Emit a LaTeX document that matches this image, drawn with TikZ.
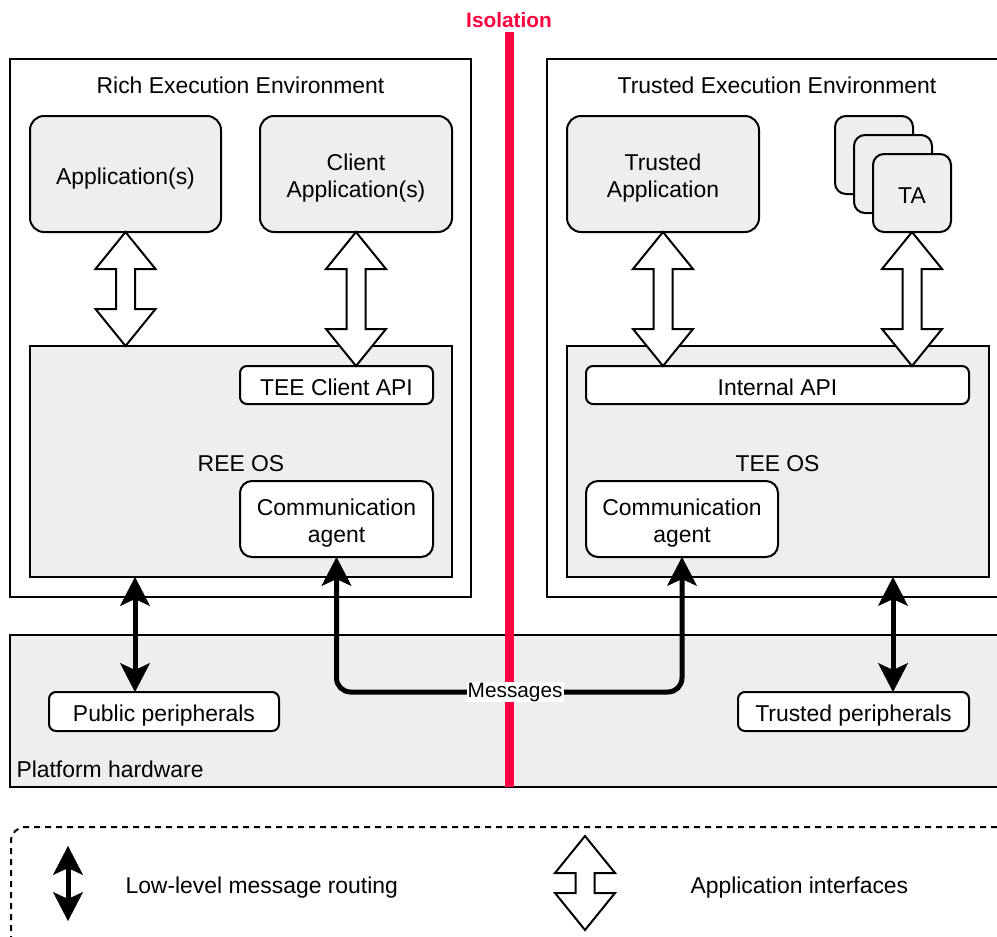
\documentclass[tikz,border=0pt]{standalone}
\usepackage{fontspec}
\setmainfont{Liberation Sans}
\usetikzlibrary{arrows.meta,calc}
\definecolor{boxgray}{HTML}{EEEEEE}
\definecolor{isored}{HTML}{FF0040}
\newcommand\mainfs{\fontsize{22.9}{27}\selectfont}
\newcommand\smallfs{\fontsize{20.8}{24}\selectfont}
\newcommand\dstrut{\rule[-5pt]{0pt}{30pt}}
\newcommand\tstrut{\rule{0pt}{25pt}}
\newcommand\bstrut{\rule[-5pt]{0pt}{5pt}}
\newcommand\appiface[2]{%
  \draw[ifc] let \p1=(#1), \p2=(#2) in
   (\x1,\y1) -- (\x1+30pt,\y1-37pt) -- (\x1+9.5pt,\y1-37pt) -- (\x1+9.5pt,\y2+37pt)
   -- (\x1+30pt,\y2+37pt) -- (\x1,\y2) -- (\x1-30pt,\y2+37pt) -- (\x1-9.5pt,\y2+37pt)
   -- (\x1-9.5pt,\y1-37pt) -- (\x1-30pt,\y1-37pt) -- cycle;}
\begin{document}
\begin{tikzpicture}[x=1pt,y=-1pt,
  every node/.style={font=\mainfs},
  wh/.style 2 args={minimum width=#1, minimum height=#2},
  region/.style={draw, line width=2pt, inner sep=0pt, outer sep=0pt, anchor=north west, align=center},
  gbox/.style={region, fill=boxgray},
  wbox/.style={region, fill=white},
  ifc/.style={draw=black, fill=white, line width=2pt, line join=miter},
  msg/.style={line width=5pt, line join=round,
     {Stealth[length=29pt,width=30pt,inset=7pt,line width=0.5pt]}-{Stealth[length=29pt,width=30pt,inset=7pt,line width=0.5pt]}},
  msglab/.style={fill=white, sharp corners, inner sep=1pt, font=\smallfs},
  ttl/.style={anchor=base}
]
\useasboundingbox (0,0) rectangle (997,937);
\clip (0,0) rectangle (997,937);

% environments
\node[wbox, wh={461pt}{538pt}] (ree) at (10,59) {};
\node[wbox, wh={460pt}{538pt}] (tee) at (547,59) {};
\node[ttl] (reettl) at (240.5,93) {Rich Execution Environment};
\node[ttl] (teettl) at (777,93) {Trusted Execution Environment};

% applications
\node[gbox, rounded corners=14pt, wh={191pt}{116pt}] (app) at (30,116) {\dstrut Application(s)};
\node[gbox, rounded corners=14pt, wh={192pt}{116pt}] (capp) at (260,116) {\tstrut Client\\Application(s)\bstrut};
\node[gbox, rounded corners=14pt, wh={192pt}{116pt}] (tapp) at (567,116) {\tstrut Trusted\\Application\bstrut};
\node[gbox, rounded corners=11pt, wh={78pt}{78pt}] (ta1) at (835,116) {};
\node[gbox, rounded corners=11pt, wh={78pt}{78pt}] (ta2) at (854,135) {};
\node[gbox, rounded corners=11pt, wh={78pt}{78pt}] (ta3) at (873,154) {\dstrut TA};

% OS boxes
\node[gbox, wh={422pt}{231pt}] (reeos) at (30,346) {};
\node[gbox, wh={422pt}{231pt}] (teeos) at (567,346) {};
\node[ttl] (reeoslbl) at (241,471) {REE OS};
\node[ttl] (teeoslbl) at (777.5,471) {TEE OS};
\node[wbox, rounded corners=7pt, wh={193pt}{38pt}] (teeclient) at (240,366) {\dstrut TEE Client API};
\node[wbox, rounded corners=7pt, wh={383pt}{38pt}] (intapi) at (586,366) {\dstrut Internal API};
\node[wbox, rounded corners=12pt, wh={193pt}{76pt}] (reecomm) at (240,481) {\tstrut Communication\\agent\bstrut};
\node[wbox, rounded corners=12pt, wh={192pt}{76pt}] (teecomm) at (586,481) {\tstrut Communication\\agent\bstrut};

% application interfaces
\appiface{app.south}{app.south |- reeos.north}
\appiface{capp.south}{capp.south |- teeclient.north}
\appiface{tapp.south}{tapp.south |- intapi.north}
\appiface{ta3.south}{ta3.south |- intapi.north}

% platform hardware
\node[gbox, wh={1000pt}{152pt}] (hw) at (10,635) {};
\node[anchor=base west] (hwlbl) at (13,777) {Platform hardware};
\node[wbox, rounded corners=7pt, wh={230pt}{39pt}] (pubper) at (49,692) {\dstrut Public peripherals};
\node[wbox, rounded corners=7pt, wh={231pt}{39pt}] (trper) at (738,692) {\dstrut Trusted peripherals};

% isolation
\coordinate (isotop) at (509,32);
\coordinate (isobot) at (509,787);
\draw[isored, line width=9pt] (isotop) -- (isobot);
\node[ttl, text=isored, font=\smallfs\bfseries] (isolbl) at (509,27) {Isolation};

% low-level routing
\draw[msg] ([xshift=-29pt]pubper.north |- reeos.south) -- ([xshift=-29pt]pubper.north);
\draw[msg] ([xshift=39.5pt]trper.north |- teeos.south) -- ([xshift=39.5pt]trper.north);
\draw[msg, rounded corners=14pt] (reecomm.south) -- (reecomm.south |- pubper.north)
   -- node[msglab, pos=0.517] (msglbl) {Messages} (teecomm.south |- pubper.north) -- (teecomm.south);

% legend
\node[draw, line width=2pt, inner sep=0pt, anchor=north west, dashed, dash pattern=on 6pt off 5pt, rounded corners=14pt, wh={1000pt}{140pt}] (legend) at (10,826) {};
\coordinate (lg1t) at (68,846);
\coordinate (lg1b) at (68,921);
\draw[msg] (lg1t) -- (lg1b);
\node[anchor=base west] (lg1lbl) at (122,893) {Low-level message routing};
\coordinate (lg2t) at (585,836);
\coordinate (lg2b) at (585,930);
\appiface{lg2t}{lg2b}
\node[anchor=base west] (lg2lbl) at (687,893) {Application interfaces};
\end{tikzpicture}
\end{document}
